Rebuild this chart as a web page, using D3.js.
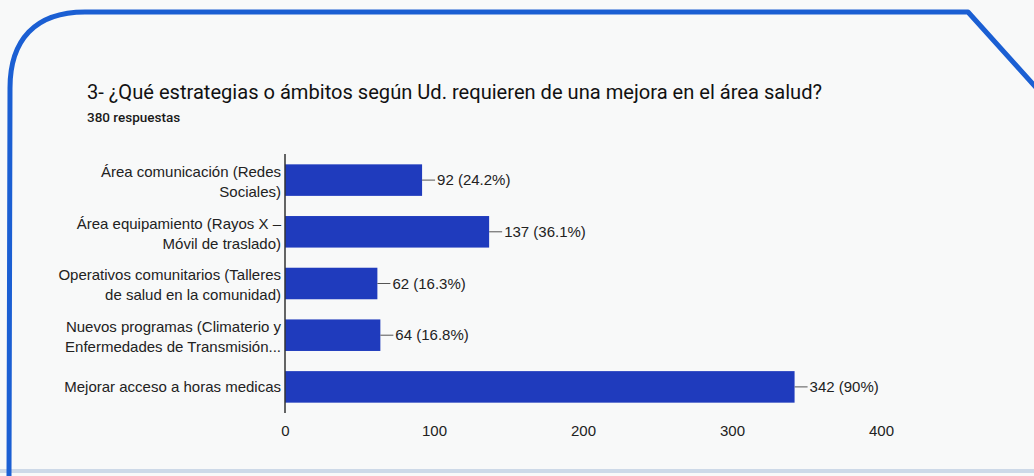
<!DOCTYPE html>
<html>
<head>
<meta charset="utf-8">
<script src="https://cdn.jsdelivr.net/npm/d3@7"></script>
<style>
  html, body { margin: 0; padding: 0; background: #f8f9f9; }
  svg { display: block; }
</style>
</head>
<body>
<div id="chart-area"></div>
<script>
// data
var categories = [
	"Área comunicación (Redes Sociales)",
	"Área equipamiento (Rayos X – Móvil de traslado)",
	"Operativos comunitarios (Talleres de salud en la comunidad)",
	"Nuevos programas (Climaterio y Enfermedades de Transmisión...",
	"Mejorar acceso a horas medicas"
];
var labelLines = [
	["Área comunicación (Redes", "Sociales)"],
	["Área equipamiento (Rayos X –", "Móvil de traslado)"],
	["Operativos comunitarios (Talleres", "de salud en la comunidad)"],
	["Nuevos programas (Climaterio y", "Enfermedades de Transmisión..."],
	["Mejorar acceso a horas medicas"]
];
var counts = [92, 137, 62, 64, 342];
var percents = ["24.2%", "36.1%", "16.3%", "16.8%", "90%"];
var xTicks = [0, 100, 200, 300, 400];

var title = "3- ¿Qué estrategias o ámbitos según Ud. requieren de una mejora en el área salud?";
var subtitle = "380 respuestas";

var W = 1034, H = 476;
var font = "Arial, 'Liberation Sans', sans-serif";

var svg = d3.select("#chart-area")
	.append("svg")
		.attr("width", W)
		.attr("height", H);

// scanned page frame
svg.append("rect")
	.attr("x", 0).attr("y", 0)
	.attr("width", W).attr("height", H)
	.attr("fill", "#f8f9f9");

svg.append("line")
	.attr("x1", 0).attr("x2", W)
	.attr("y1", 471).attr("y2", 471)
	.attr("stroke", "#cdd9e8")
	.attr("stroke-width", 4);

svg.append("path")
	.attr("d", "M9,480 L10,88 C10,40 35,12 85,12 L968,12 L1040,92")
	.attr("fill", "none")
	.attr("stroke", "#1b5fd3")
	.attr("stroke-width", 5)
	.attr("stroke-linejoin", "round");

// title
svg.append("text")
	.attr("x", 87)
	.attr("y", 99)
	.attr("font-family", "Roboto, Arial, sans-serif")
	.attr("font-size", "20px")
	.attr("fill", "#111")
	.attr("textLength", 735)
	.attr("lengthAdjust", "spacingAndGlyphs")
	.text(title);

svg.append("text")
	.attr("x", 87)
	.attr("y", 122)
	.attr("font-family", "Roboto, Arial, sans-serif")
	.attr("font-size", "13.5px")
	.attr("font-weight", "500")
	.attr("fill", "#1a1a1a")
	.text(subtitle);

// scales
var x = d3.scaleLinear()
	.domain([0, 400])
	.range([285, 881]);

var y = d3.scaleBand()
	.domain(categories)
	.range([154, 413])
	.paddingInner(0.39)
	.paddingOuter(0.2);

var g = svg.append("g");

// bars
g.selectAll("rect.bar")
	.data(categories)
	.enter()
	.append("rect")
		.attr("class", "bar")
		.attr("x", x(0))
		.attr("y", function(d){ return y(d); })
		.attr("width", function(d, i){ return x(counts[i]) - x(0); })
		.attr("height", y.bandwidth())
		.attr("fill", "#1f3bbd");

// value labels with little leader line
g.selectAll("line.lead")
	.data(categories)
	.enter()
	.append("line")
		.attr("class", "lead")
		.attr("x1", function(d, i){ return x(counts[i]); })
		.attr("x2", function(d, i){ return x(counts[i]) + 13; })
		.attr("y1", function(d){ return y(d) + y.bandwidth()/2; })
		.attr("y2", function(d){ return y(d) + y.bandwidth()/2; })
		.attr("stroke", "#555")
		.attr("stroke-width", 1);

g.selectAll("text.val")
	.data(categories)
	.enter()
	.append("text")
		.attr("class", "val")
		.attr("x", function(d, i){ return x(counts[i]) + 15; })
		.attr("y", function(d){ return y(d) + y.bandwidth()/2; })
		.attr("dy", "0.35em")
		.attr("font-family", font)
		.attr("font-size", "15px")
		.attr("fill", "#222")
		.text(function(d, i){ return counts[i] + " (" + percents[i] + ")"; });

// category labels
var lab = g.selectAll("text.cat")
	.data(categories)
	.enter()
	.append("text")
		.attr("class", "cat")
		.attr("x", 281)
		.attr("y", function(d){ return y(d) + y.bandwidth()/2; })
		.attr("text-anchor", "end")
		.attr("font-family", font)
		.attr("font-size", "15px")
		.attr("fill", "#222");

lab.each(function(d, i){
	var lines = labelLines[i];
	var t = d3.select(this);
	lines.forEach(function(s, k){
		t.append("tspan")
			.attr("x", 281)
			.attr("dy", k == 0 ? (lines.length == 1 ? "0.35em" : "-0.22em") : "1.35em")
			.text(s);
	});
});

// axis
var xAxis = d3.axisBottom(x)
	.tickValues(xTicks)
	.tickSize(0)
	.tickPadding(0);

var ax = g.append("g")
	.attr("transform", "translate(0,431)")
	.call(xAxis);
ax.select(".domain").remove();
ax.selectAll("text")
	.attr("dy", "0.35em")
	.attr("font-family", font)
	.attr("font-size", "15px")
	.attr("fill", "#222");

g.append("line")
	.attr("x1", x(0)).attr("x2", x(0))
	.attr("y1", y.range()[0]).attr("y2", y.range()[1])
	.attr("stroke", "#333")
	.attr("stroke-width", 1.5);
</script>
</body>
</html>
